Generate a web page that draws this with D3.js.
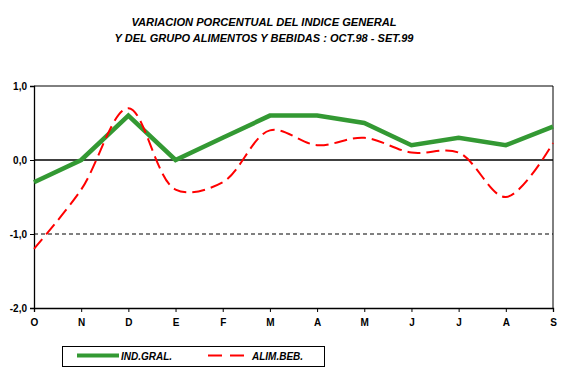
<!DOCTYPE html>
<html><head><meta charset="utf-8">
<script src="https://cdn.jsdelivr.net/npm/d3@7"></script>
<style>body{margin:0;background:#fff}svg{display:block}text{font-family:"Liberation Sans",Arial,sans-serif}</style>
</head><body>
<script>
const months = ["O","N","D","E","F","M","A","M","J","J","A","S"];
const indGral = [-0.3,0.0,0.6,0.0,0.3,0.6,0.6,0.5,0.2,0.3,0.2,0.45];
const alimBeb = [-1.2,-0.4,0.7,-0.4,-0.3,0.4,0.2,0.3,0.1,0.1,-0.5,0.23];
const yTicks = [1,0,-1,-2];
const titleLines = ["VARIACION PORCENTUAL DEL INDICE GENERAL","Y DEL GRUPO ALIMENTOS Y BEBIDAS : OCT.98 - SET.99"];

const W=565,H=381;
const svg=d3.select("body").append("svg").attr("width",W).attr("height",H);
const x=d3.scalePoint().domain(d3.range(months.length)).range([34,553]);
const y=d3.scaleLinear().domain([-2,1]).range([308,86]);

svg.selectAll("text.title").data(titleLines).join("text").attr("class","title")
  .attr("x",264).attr("y",(d,i)=>26+i*16).attr("text-anchor","middle")
  .attr("font-size",11.2).attr("font-weight","bold").attr("font-style","italic")
  .attr("textLength",(d,i)=>i===0?265:299).attr("lengthAdjust","spacingAndGlyphs").text(d=>d);

// box
svg.append("line").attr("x1",x(0)).attr("x2",x(11)).attr("y1",y(1)).attr("y2",y(1)).attr("stroke","#000");
svg.append("line").attr("x1",x(11)).attr("x2",x(11)).attr("y1",y(1)).attr("y2",y(-2)).attr("stroke","#000");
svg.append("line").attr("x1",x(0)).attr("x2",x(11)).attr("y1",y(0)).attr("y2",y(0)).attr("stroke","#000").attr("stroke-width",1.3);
svg.append("line").attr("x1",x(0)).attr("x2",x(11)).attr("y1",y(-1)).attr("y2",y(-1)).attr("stroke","#000").attr("stroke-dasharray","4,3");

const yAxis=svg.append("g").attr("transform",`translate(${x(0)},0)`)
  .call(d3.axisLeft(y).tickValues(yTicks).tickSize(4).tickPadding(3).tickFormat(d=>d3.format(".1f")(d).replace(".",",").replace("−","-")));
const xAxis=svg.append("g").attr("transform",`translate(0,${y(-2)})`)
  .call(d3.axisBottom(x).tickSize(4).tickPadding(7).tickFormat(i=>months[i]));
[yAxis,xAxis].forEach(g=>{g.select(".domain").attr("stroke","#000").attr("stroke-width",1.3);
  g.selectAll(".tick line").attr("stroke","#000");
  g.selectAll("text").attr("font-size",10).attr("font-weight","bold").attr("fill","#000").style("font-family","'Liberation Sans',Arial,sans-serif");});

const lineG=d3.line().x((d,i)=>x(i)).y(d=>y(d));
const lineR=d3.line().x((d,i)=>x(i)).y(d=>y(d)).curve(d3.curveCatmullRom.alpha(0.5));
svg.append("path").datum(indGral).attr("d",lineG).attr("fill","none").attr("stroke","#339933").attr("stroke-width",4.5);
svg.append("path").datum(alimBeb).attr("d",lineR).attr("fill","none").attr("stroke","#ff0000").attr("stroke-width",2).attr("stroke-dasharray","13,6");

// legend
svg.append("rect").attr("x",62.5).attr("y",346.5).attr("width",262).attr("height",20).attr("fill","none").attr("stroke","#000");
svg.append("line").attr("x1",77).attr("x2",119).attr("y1",355.5).attr("y2",355.5).attr("stroke","#339933").attr("stroke-width",4);
svg.append("text").attr("x",121).attr("y",359.5).attr("font-size",10).attr("font-weight","bold").attr("font-style","italic").text("IND.GRAL.");
svg.append("line").attr("x1",208).attr("x2",244).attr("y1",355.5).attr("y2",355.5).attr("stroke","#ff0000").attr("stroke-width",2).attr("stroke-dasharray","14,8");
svg.append("text").attr("x",252).attr("y",359.5).attr("font-size",10).attr("font-weight","bold").attr("font-style","italic").text("ALIM.BEB.");
</script>
</body></html>
